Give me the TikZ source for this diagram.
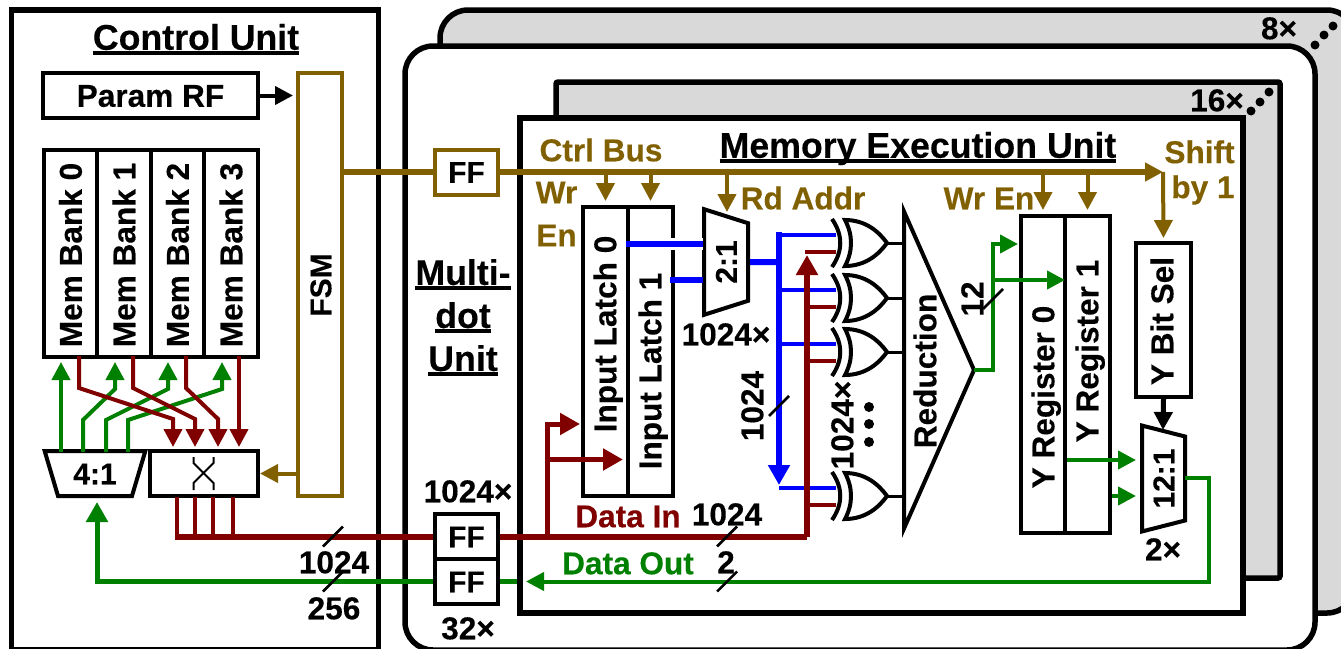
\documentclass[tikz,border=0pt]{standalone}
\usepackage{fontspec}
\setmainfont{Liberation Sans}[BoldFeatures={FakeBold=0.25}]
\usetikzlibrary{positioning, arrows.meta, shapes.geometric, calc}
\definecolor{brownbus}{RGB}{128,96,0}
\definecolor{redbus}{RGB}{128,0,0}
\definecolor{greenbus}{RGB}{0,128,0}
\definecolor{bluebus}{RGB}{0,0,255}
\definecolor{shade}{RGB}{217,217,217}
% thick underline for the unit titles
\newcommand{\thickul}[1]{\setbox0\hbox{#1}\dp0=0pt\vtop{\box0\kern1.5pt\hrule height 3.5pt}}

\begin{document}
\begin{tikzpicture}[
    x=1pt, y=-1pt,
    >={Triangle[length=18pt,width=18pt]},
    bigtip/.style={-{Triangle[length=20pt,width=21pt]}},
    unitbox/.style={draw, line width=5.5pt, fill=white, minimum width=#1},
    stackbox/.style={draw, line width=5.5pt, fill=shade, rounded corners=28pt},
    cell/.style={draw, line width=4pt, fill=white, inner sep=0pt},
    ffbox/.style={cell, minimum width=63pt, minimum height=45pt, font=\fontsize{30}{31}\selectfont\bfseries,
                  text height=21.5pt, text depth=0pt},
    muxbox/.style={draw, line width=4pt, fill=white, inner sep=0pt, trapezium,
                   trapezium stretches=true, trapezium left angle=70, trapezium right angle=70,
                   font=\fontsize{30}{31}\selectfont\bfseries, text height=21.5pt, text depth=0pt},
    lbl/.style={inner sep=0pt, font=\fontsize{31.6}{36}\selectfont\bfseries, text height=22.5pt, text depth=0pt},
    vlbl/.style={lbl, rotate=90},
    title/.style={inner sep=0pt, font=\fontsize{35.7}{36}\selectfont\bfseries, text height=25.5pt, text depth=0pt},
    twoline/.style={inner sep=0pt, font=\fontsize{31.6}{#1}\selectfont\bfseries},
    ctlwire/.style={draw=brownbus, line width=4pt},
    buswire/.style={draw=brownbus, line width=6pt},
    rdwire/.style={draw=redbus, line width=#1},
    gnwire/.style={draw=greenbus, line width=#1},
    blwire/.style={draw=bluebus, line width=#1},
    slash/.style={line width=2.5pt},
    gateline/.style={line width=4pt},
  ]
  \clip (0,0) rectangle (1341,648);

  % Stacked units behind
  \node[stackbox, minimum width=915pt, minimum height=603pt] (stack8) at (897.5,311.5) {};
  \node[stackbox, fill=white, minimum width=910pt, minimum height=604pt] (dotunit) at (860,348) {};
  \node[stackbox, rounded corners=2pt, minimum width=724pt, minimum height=496pt] (stack16) at (918,330) {};
  \node[unitbox=723pt, minimum height=495pt] (meu) at (881.5,365.5) {};

  \node[lbl] (cnt8) at (1279,28) {8×};
  \node[lbl] (cnt16) at (1217,100) {16×};
  \foreach \dx/\dy in {1315/45,1324/35,1333/26,1251/111,1260/102,1269/92}
    \fill (\dx,\dy) circle (4.5pt);

  % Control unit
  \node[unitbox=367pt, minimum height=640pt] (ctrl) at (195,330) {};
  \node[title] (ctrltitle) at (196,37) {\thickul{Control Unit}};
  \node[cell, minimum width=215pt, minimum height=45pt, lbl, inner sep=0pt] (param) at (150.5,95.5) {Param RF};
  \node[ctlwire, draw, fill=white, minimum width=44pt, minimum height=423pt] (fsm) at (320,284.5) {};
  \node[vlbl, font=\fontsize{30}{31}\selectfont\bfseries] (fsmtxt) at (320,285) {FSM};
  \draw[->, line width=4pt] (param) -- (293,95.5) coordinate (fsmin);

  % Memory banks
  \node[cell, minimum width=53.5pt, minimum height=207pt] (mem0) at (70.5,253) {};
  \node[cell, minimum width=53.5pt, minimum height=207pt, right=-4pt of mem0] (mem1) {};
  \node[cell, minimum width=53.5pt, minimum height=207pt, right=-4pt of mem1] (mem2) {};
  \node[cell, minimum width=53.5pt, minimum height=207pt, right=-4pt of mem2] (mem3) {};
  \foreach \i in {0,...,3}
    \node[vlbl] (memtxt\i) at ($(mem\i)+(0,2)$) {Mem Bank \i};

  % Read mux and crossbar
  \node[muxbox, shape border rotate=180, minimum width=101pt, minimum height=45pt] (mux4) at (95,473.5) {4:1};
  \node[cell, minimum width=108pt, minimum height=45pt] (xbar) at (204,473.5) {};
  \draw[line width=2pt] (193.5,457) -- (193.5,463) -- (213.5,483) -- (213.5,490)
                        (213.5,457) -- (213.5,463) -- (193.5,483) -- (193.5,490);
  \draw[ctlwire, ->] (fsm.west |- xbar) -- (xbar);

  \foreach \i/\a/\b in {0/61/61,1/83/115,2/106/168,3/128/222} {
    \coordinate (muxtop\i) at (\a,452);
    \coordinate (memfoot\i) at (\b,362);
    \draw[gnwire=4pt, ->] (muxtop\i) -- (\a,420) -- (\b,389) -- (memfoot\i);
  }
  \foreach \i/\a/\b in {0/79/173,1/133/195,2/186/218,3/239/239} {
    \coordinate (memout\i) at (\a,356);
    \coordinate (xbarin\i) at (\b,447);
    \draw[rdwire=4pt, ->] (memout\i) -- (\a,388) -- (\b,419) -- (xbarin\i);
  }

  % Flip flops
  \node[ffbox, draw=brownbus] (ffctrl) at (466.5,172) {FF};
  \node[ffbox] (ffdata) at (466.5,536.5) {FF};
  \node[ffbox, below=-4pt of ffdata] (ffout) {FF};
  \node[lbl] (ffdatacnt) at (468,491) {1024×};
  \node[lbl] (ffoutcnt) at (468,628) {32×};

  % Data lines to the control unit
  \coordinate (dinstart) at (175,536.5);
  \coordinate (mux4in) at (97,502);
  \foreach \i/\a in {0/177,1/195,2/213,3/233} {
    \coordinate (xbarout\i) at (\a,497);
    \draw[rdwire=4pt] (xbarout\i) -- (xbarout\i |- dinstart);
  }
  \draw[rdwire=6pt] (dinstart) -- (ffdata.west);
  \draw[gnwire=5pt, bigtip] (ffout.west) -| (mux4in);
  \draw[gnwire=5pt] (ffout.east) -- (meu.west |- ffout);

  % Control bus
  \coordinate (busend) at (1163,172);
  \draw[buswire] (fsm.east |- ffctrl) -- (ffctrl.west);
  \draw[buswire, ->] (ffctrl.east) -- (busend);

  % Input latches
  \node[cell, minimum width=45pt, minimum height=289pt] (latch0) at (605.5,351.5) {};
  \node[cell, minimum width=45pt, minimum height=289pt, right=-4pt of latch0] (latch1) {};
  \node[vlbl] (latchtxt0) at (605,334) {Input Latch 0};
  \node[vlbl] (latchtxt1) at (650,371) {Input Latch 1};

  % Rd mux
  \node[muxbox, rotate=90, shape border rotate=180, minimum width=106pt, minimum height=44pt] (mux2) at (726,262) {2:1};
  \node[lbl] (mux2cnt) at (726,334) {1024×};
  \coordinate (rdout0) at (626,244);
  \coordinate (rdin0) at (703,244);
  \coordinate (rdout1) at (670,280);
  \coordinate (rdin1) at (703,280);
  \draw[draw=white, line width=12pt] (660,244) -- (rdin0);
  \draw[blwire=6pt] (rdout0) -- (rdin0);
  \draw[blwire=6pt] (rdout1) -- (rdin1);

  % Xor gates
  \foreach \n/\y in {1/243,2/298,3/352,4/496} {
    \coordinate (xorout\n) at (887,\y);
    \coordinate (xorbl\n) at (836,\y-8.5);
    \coordinate (xorrd\n) at (836,\y+9);
    \draw[gateline] (845,\y-23) .. controls (866,\y-23) and (879,\y-11) .. (887,\y)
                    .. controls (879,\y+11) and (866,\y+23) .. (845,\y+23)
                    .. controls (853,\y+8) and (853,\y-8) .. cycle;
    \draw[gateline] (832,\y-24) .. controls (843,\y-8) and (843,\y+8) .. (832,\y+24);
  }

  % Blue bus
  \coordinate (blbus) at (779,262);
  \coordinate (bltop) at (779,232);
  \coordinate (blend) at (779,485);
  \draw[blwire=6pt] (mux2.south) -- (blbus);
  \draw[blwire=6pt, bigtip] (bltop) -- (blend);
  \foreach \n in {1,...,4}
    \draw[blwire=4pt] (blbus |- xorbl\n) -- (xorbl\n);

  % Red bus
  \coordinate (latchtap) at (547,536.5);
  \coordinate (latchin0) at (580,424);
  \coordinate (latchin1) at (623,459.5);
  \coordinate (rdjoin) at (807,536.5);
  \coordinate (rdtip) at (807,255);
  \draw[rdwire=6pt] (ffdata.east) -- (rdjoin);
  \draw[rdwire=6pt, bigtip] (rdjoin) -- (rdtip);
  \draw[rdwire=5pt, bigtip] (latchtap) |- (latchin0);
  \draw[rdwire=5pt, bigtip] (latchtap |- latchin1) -- (latchin1);
  \foreach \n in {1,...,4}
    \draw[rdwire=4pt] ($(rdjoin |- xorrd\n)+(-2,0)$) -- (xorrd\n);

  % Reduction
  \node[isosceles triangle, isosceles triangle stretches, draw, line width=4pt, inner sep=0pt, outer sep=0pt,
        anchor=apex, minimum width=317pt, minimum height=70pt] (redu) at (974,370) {};
  \node[vlbl] (redutxt) at (925,371) {Reduction};
  \coordinate (reduleft) at (905,370);
  \foreach \n in {1,...,4}
    \draw[line width=3pt] (xorout\n) -- (xorout\n -| reduleft);

  % Y registers
  \node[cell, minimum width=44.5pt, minimum height=317pt] (yreg0) at (1043,374.5) {};
  \node[cell, minimum width=44.5pt, minimum height=317pt, right=-4pt of yreg0] (yreg1) {};
  \node[vlbl] (yregtxt0) at (1043,397) {Y Register 0};
  \node[vlbl] (yregtxt1) at (1087,351) {Y Register 1};
  \node[cell, minimum width=55pt, minimum height=154pt] (ysel) at (1163.5,320) {};
  \node[vlbl] (yseltxt) at (1162,321) {Y Bit Sel};

  \coordinate (gnturn) at (993,370);
  \coordinate (regin0) at (1018,244);
  \coordinate (regin1) at (1065,280);
  \draw[gnwire=4pt, ->] (redu.apex) -- (gnturn) |- (regin0);
  \draw[gnwire=4pt, ->] (gnturn |- regin1) -- (regin1);

  % Output mux
  \node[muxbox, rotate=90, shape border rotate=180, minimum width=106pt, minimum height=43pt] (mux12) at (1163.5,478.5) {12:1};
  \node[lbl] (mux12cnt) at (1163,549) {2×};
  \coordinate (yregout0) at (1067,460);
  \coordinate (yregout1) at (1112,496);
  \coordinate (muxin0) at (1136,460);
  \coordinate (muxin1) at (1136,496);
  \coordinate (muxout) at (1185,478);
  \coordinate (dataoutend) at (526,581.5);
  \draw[gnwire=4pt, ->] (yregout0) -- (muxin0);
  \draw[gnwire=4pt, ->] (yregout1) -- (muxin1);
  \draw[gnwire=4pt, ->] (muxout) -- (1209,478) |- (dataoutend);
  \draw[->, line width=5pt] (ysel.south) -- (1163,430) coordinate (mux12top);

  % Enable arrows off the bus
  \foreach \t in {latch0,latch1,yreg0,yreg1}
    \draw[ctlwire, ->, shorten >=4pt] (\t.north |- busend) -- (\t.north);
  \coordinate (mux2en) at (727,212);
  \draw[ctlwire, ->] (mux2en |- busend) -- (mux2en);
  \draw[ctlwire, ->] (busend) -- ($(ysel.north)+(0,-3)$);

  % Bus width marks
  \foreach \sx/\sy in {333/536.5,333/581.5,727/536.5,727/581.5,779/406,993/299}
    \draw[slash] (\sx-10,\sy+10) -- (\sx+10,\sy-10);
  \foreach \dy in {407,424,442}
    \fill (869,\dy) circle (5pt);

  % Labels
  \node[title] (meutitle) at (918,145) {\thickul{Memory Execution Unit}};
  \node[twoline=43, align=center, font=\fontsize{35.7}{43}\selectfont\bfseries] (dottitle) at (463,317.5)
    {\thickul{Multi-}\\\thickul{dot}\\\thickul{Unit}};
  \node[lbl, text=brownbus] (ctrlbus) at (601,150) {Ctrl Bus};
  \node[twoline=43, text=brownbus, align=center] (wren0) at (556.5,214) {Wr\\En};
  \node[lbl, text=brownbus] (rdaddr) at (803,198) {Rd Addr};
  \node[lbl, text=brownbus] (wren1) at (989,198) {Wr En};
  \node[twoline=35, text=brownbus, align=right] (shiftby) at (1199.5,172.5) {Shift\\by 1};
  \node[lbl, text=redbus] (datain) at (628,516) {Data In};
  \node[lbl, text=greenbus] (dataout) at (628,563) {Data Out};
  \node[lbl] (w1024a) at (334,562) {1024};
  \node[lbl] (w256) at (334,608) {256};
  \node[lbl] (w1024b) at (727,514) {1024};
  \node[lbl] (w2) at (726,562) {2};
  \node[vlbl] (w1024c) at (752,406) {1024};
  \node[vlbl] (w1024d) at (842,425) {1024×};
  \node[vlbl] (w12) at (972,299) {12};
\end{tikzpicture}
\end{document}
